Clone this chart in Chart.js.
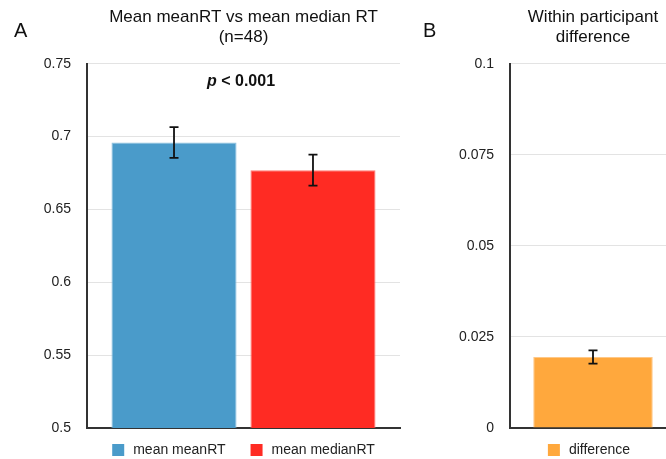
<!DOCTYPE html>
<html>
<head>
<meta charset="utf-8">
<script src="https://cdn.jsdelivr.net/npm/chart.js@4/dist/chart.umd.min.js"></script>
<style>
  html, body { margin: 0; padding: 0; background: #fff; }
  #wrap { position: relative; width: 666px; height: 459px; overflow: hidden; }
  #chartA { position: absolute; left: 0; top: 0; }
  #chartB { position: absolute; left: 410px; top: 0; }
</style>
</head>
<body>
<div id="wrap">
  <canvas id="chartA" width="410" height="459" style="width:410px;height:459px"></canvas>
  <canvas id="chartB" width="270" height="459" style="width:270px;height:459px"></canvas>
</div>
<script>
// Panel A data
const seriesA = ['mean meanRT', 'mean medianRT'];
const meansA = [0.696, 0.677];
const errorsA = [0.0106, 0.0106];
const colorsA = ['#4a9bca', '#ff2b23'];
const edgesA = ['#8cc1e0', '#ff7a74'];
const ticksA = [0.5, 0.55, 0.6, 0.65, 0.7, 0.75];

// Panel B data
const seriesB = ['difference'];
const meansB = [0.0195];
const errorsB = [0.0018];
const colorsB = ['#ffa83d'];
const edgesB = ['#ffc887'];
const ticksB = [0, 0.025, 0.05, 0.075, 0.1];

const FONT = "'Liberation Sans', Arial, Helvetica, sans-serif";
Chart.defaults.font.family = FONT;
Chart.defaults.color = '#222';

// Error bars drawn at bar centre, value +/- error
const errorBars = {
    id: 'errorBars',
    afterDatasetsDraw(chart) {
        const ctx = chart.ctx;
        const yScale = chart.scales.y;
        ctx.save();
        ctx.strokeStyle = '#111';
        ctx.lineWidth = 1.8;
        chart.data.datasets.forEach((ds, i) => {
            const meta = chart.getDatasetMeta(i);
            meta.data.forEach((bar, j) => {
                const err = ds.errors[j];
                const yTop = yScale.getPixelForValue(ds.data[j] + err);
                const yBot = yScale.getPixelForValue(ds.data[j] - err);
                const x = bar.x;
                ctx.beginPath();
                ctx.moveTo(x, yTop); ctx.lineTo(x, yBot);
                ctx.moveTo(x - 4.5, yTop); ctx.lineTo(x + 4.5, yTop);
                ctx.moveTo(x - 4.5, yBot); ctx.lineTo(x + 4.5, yBot);
                ctx.stroke();
            });
        });
        ctx.restore();
    }
};

// Panel letter, p-value note and a legend centred under the plot area
const panelText = {
    id: 'panelText',
    afterDraw(chart, args, opts) {
        const ctx = chart.ctx;
        const area = chart.chartArea;
        ctx.save();
        ctx.fillStyle = '#111';
        ctx.textBaseline = 'alphabetic';
        ctx.textAlign = 'left';
        ctx.font = '20px ' + FONT;
        ctx.fillText(opts.letter, opts.letterX, 37);

        if (opts.note) {
            const f1 = 'italic bold 16px ' + FONT;
            const f2 = 'bold 16px ' + FONT;
            ctx.font = f1;
            const w1 = ctx.measureText('p').width;
            ctx.font = f2;
            const w2 = ctx.measureText(' < 0.001').width;
            const x0 = opts.noteX - (w1 + w2) / 2;
            ctx.font = f1;
            ctx.fillText('p', x0, 86);
            ctx.font = f2;
            ctx.fillText(' < 0.001', x0 + w1, 86);
        }

        // legend
        ctx.font = '14px ' + FONT;
        ctx.textBaseline = 'middle';
        const box = 12, gap = 9, spacing = 25;
        const items = chart.data.datasets.map(ds => ({
            label: ds.label, color: ds.backgroundColor,
            w: box + gap + ctx.measureText(ds.label).width
        }));
        const total = items.reduce((s, it) => s + it.w, 0) + spacing * (items.length - 1);
        let x = (area.left + area.right) / 2 + (opts.legendShift || 0) - total / 2;
        const yTop = 444;
        items.forEach(it => {
            ctx.fillStyle = it.color;
            ctx.fillRect(x, yTop, box, box);
            ctx.fillStyle = '#222';
            ctx.fillText(it.label, x + box + gap, yTop + box / 2 + 0.5);
            x += it.w + spacing;
        });
        ctx.restore();
    }
};

function makeOptions(title, ticks, yWidth, padRight, text) {
    return {
        responsive: false,
        animation: false,
        layout: { padding: { left: 0, right: padRight, top: 0, bottom: 31 } },
        plugins: {
            title: {
                display: true,
                text: title,
                fullSize: false,
                color: '#111',
                font: { size: 17, weight: 'normal', lineHeight: 1.2 },
                padding: { top: 7, bottom: 16 }
            },
            legend: { display: false },
            tooltip: { enabled: false },
            panelText: text
        },
        scales: {
            x: {
                grid: { display: false },
                border: { display: true, color: '#333', width: 2 },
                ticks: { display: false },
                afterFit: (s) => { s.height = 0; }
            },
            y: {
                min: ticks[0],
                max: ticks[ticks.length - 1],
                afterBuildTicks: (s) => { s.ticks = ticks.map(v => ({ value: v })); },
                afterFit: (s) => { s.width = yWidth; },
                grid: { color: '#e3e3e3', drawTicks: false },
                border: { display: true, color: '#333', width: 2 },
                ticks: {
                    padding: 16,
                    color: '#222',
                    font: { size: 14 },
                    callback: (v) => String(+Number(v).toFixed(3))
                }
            }
        }
    };
}

const chartA = new Chart(document.getElementById('chartA'), {
    type: 'bar',
    data: {
        labels: [''],
        datasets: seriesA.map((name, i) => ({
            label: name,
            data: [meansA[i]],
            errors: [errorsA[i]],
            backgroundColor: colorsA[i],
            borderColor: edgesA[i],
            borderWidth: { top: 1, left: 1, right: 1, bottom: 0 },
            borderSkipped: 'bottom',
            barPercentage: 0.9,
            categoryPercentage: 0.888
        }))
    },
    options: makeOptions(['Mean meanRT vs mean median RT', '(n=48)'], ticksA, 87, 10,
        { letter: 'A', letterX: 14, note: true, noteX: 241 }),
    plugins: [errorBars, panelText]
});

const chartB = new Chart(document.getElementById('chartB'), {
    type: 'bar',
    data: {
        labels: [''],
        datasets: seriesB.map((name, i) => ({
            label: name,
            data: [meansB[i]],
            errors: [errorsB[i]],
            backgroundColor: colorsB[i],
            borderColor: edgesB[i],
            borderWidth: { top: 1, left: 1, right: 1, bottom: 0 },
            borderSkipped: 'bottom',
            barPercentage: 0.9,
            categoryPercentage: 0.8
        }))
    },
    options: makeOptions(['Within participant', 'difference'], ticksB, 100, 4,
        { letter: 'B', letterX: 13, note: false, legendShift: -4 }),
    plugins: [errorBars, panelText]
});
</script>
</body>
</html>
